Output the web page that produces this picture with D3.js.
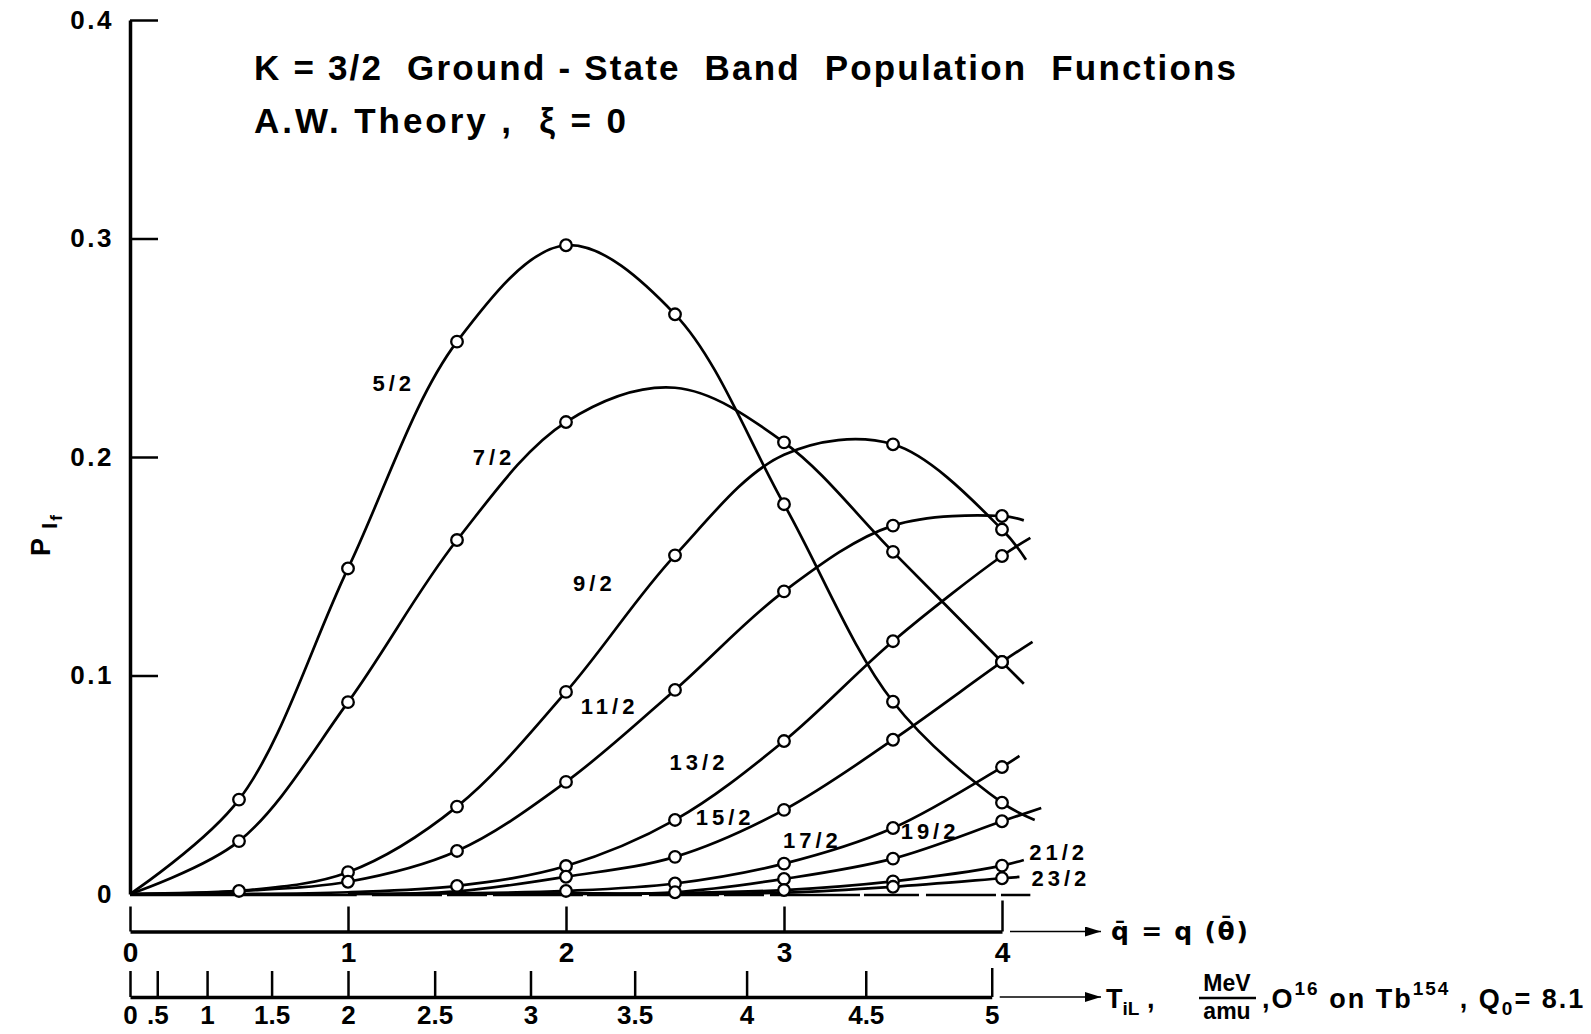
<!DOCTYPE html>
<html>
<head>
<meta charset="utf-8">
<script src="https://cdn.jsdelivr.net/npm/d3@7"></script>
<style>
body { margin: 0; background: #fff; }
text { font-family: "Liberation Sans", Arial, sans-serif; font-weight: bold; fill: #000; }
</style>
</head>
<body>
<svg id="chart" width="1591" height="1034"></svg>
<script>

// reduced collision parameter grid, where the populations were computed
var qGrid = [0, 0.5, 1, 1.5, 2, 2.5, 3, 3.5, 4];

var spins = ["5/2", "7/2", "9/2", "11/2", "13/2", "15/2", "17/2", "19/2", "21/2", "23/2"];

var p52  = [0, 0.0432, 0.149, 0.2528, 0.2969, 0.2653, 0.1784, 0.088, 0.0418];
var p72  = [0, 0.0242, 0.0878, 0.162, 0.216, 0.2317, 0.2067, 0.1566, 0.1062];
var p92  = [0, 0.0014, 0.0100, 0.040, 0.0925, 0.155, 0.201, 0.2058, 0.1668];
var p112 = [0, 0.0014, 0.0056, 0.0197, 0.0513, 0.0934, 0.1385, 0.1686, 0.173];
var p132 = [0, 0, 0.0008, 0.0037, 0.0128, 0.0339, 0.0700, 0.1157, 0.1547];
var p152 = [null, null, 0, 0.0012, 0.0079, 0.0170, 0.0385, 0.0706, 0.1062];
var p172 = [null, null, 0, 0.0003, 0.0014, 0.0048, 0.0139, 0.0302, 0.0581];
var p192 = [null, null, null, 0, 0.0003, 0.0008, 0.0069, 0.0162, 0.0333];
var p212 = [null, null, null, null, 0, 0.0004, 0.0018, 0.0058, 0.0130];
var p232 = [null, null, null, null, null, 0, 0.0006, 0.0033, 0.0072];

var series = [p52, p72, p92, p112, p132, p152, p172, p192, p212, p232];

// where each drawn curve stops, a little past q = 4
var qEnd = [4.15, 4.10, 4.11, 4.10, 4.13, 4.14, 4.08, 4.18, 4.10, 4.08];
var pEnd = [0.0339, 0.0962, 0.153, 0.171, 0.163, 0.1154, 0.0632, 0.0394, 0.0156, 0.0078];

// q values that carry an open circle
var marks = [
  [0.5, 1, 1.5, 2, 2.5, 3, 3.5, 4],
  [0.5, 1, 1.5, 2, 3, 3.5, 4],
  [0.5, 1, 1.5, 2, 2.5, 3.5, 4],
  [1, 1.5, 2, 2.5, 3, 3.5, 4],
  [1.5, 2, 2.5, 3, 3.5, 4],
  [2, 2.5, 3, 3.5, 4],
  [2, 2.5, 3, 3.5, 4],
  [2.5, 3, 3.5, 4],
  [3, 3.5, 4],
  [3.5, 4]
];

var yTicks = [0, 0.1, 0.2, 0.3, 0.4];
var yTickLabels = ["0", "0.1", "0.2", "0.3", "0.4"];
var qTicks = [0, 1, 2, 3, 4];
var tTicks = [0, 0.5, 1, 1.5, 2, 2.5, 3, 3.5, 4, 4.5, 5];
var tTickLabels = ["0", ".5", "1", "1.5", "2", "2.5", "3", "3.5", "4", "4.5", "5"];

var svg = d3.select("#chart");

var x = d3.scaleLinear().domain([0, 4]).range([130, 1002]);
var y = d3.scaleLinear().domain([0, 0.4]).range([894, 20]);
// q = (T/2)^1.5 for O16 on Tb154
var t = d3.scalePow().exponent(1.5).domain([0, 5]).range([x(0), x(Math.pow(2.5, 1.5))]);

var qAxisY = 931.5, tAxisY = 997;
var font = "\"Liberation Sans\", Arial, sans-serif";

// ---- y axis
var yAxis = svg.append("g")
  .attr("transform", "translate(" + x(0) + ",0)")
  .call(d3.axisLeft(y).tickValues(yTicks)
    .tickFormat(function(d, i) { return yTickLabels[i]; })
    .tickSizeInner(-28).tickSizeOuter(0).tickPadding(16));
yAxis.select(".domain").attr("stroke-width", 3.5);
yAxis.selectAll(".tick line").attr("stroke-width", 2.5)
  .filter(function(d) { return d === 0; }).remove();
yAxis.selectAll(".tick text").style("font-size", "26px").style("letter-spacing", "2.5px")
  .style("font-family", font).style("font-weight", "bold");

// P_If label
var yl = svg.append("text").attr("transform", "translate(50,556) rotate(-90)")
  .style("font-size", "27px");
yl.append("tspan").text("P");
yl.append("tspan").attr("dy", 7).attr("dx", 9).style("font-size", "22px").text("I");
yl.append("tspan").attr("dy", 5).attr("dx", 2).style("font-size", "17px").text("f");

// ---- q axis
var qAxis = svg.append("g")
  .attr("transform", "translate(0," + qAxisY + ")")
  .call(d3.axisBottom(x).tickValues(qTicks).tickFormat(d3.format("d"))
    .tickSizeInner(-25).tickSizeOuter(0).tickPadding(11));
qAxis.select(".domain").attr("stroke-width", 3.5);
qAxis.selectAll(".tick line").attr("stroke-width", 2.5)
  .filter(function(d) { return d === 4; }).attr("y2", -31);
qAxis.selectAll(".tick text").style("font-size", "28px")
  .style("font-family", font).style("font-weight", "bold");

// ---- T axis
var tAxis = svg.append("g")
  .attr("transform", "translate(0," + tAxisY + ")")
  .call(d3.axisBottom(t).tickValues(tTicks)
    .tickFormat(function(d, i) { return tTickLabels[i]; })
    .tickSizeInner(-26).tickSizeOuter(0).tickPadding(9));
tAxis.select(".domain").attr("stroke-width", 3.5);
tAxis.selectAll(".tick line").attr("stroke-width", 2.5)
  .filter(function(d) { return d === 5; }).attr("y2", -29);
tAxis.selectAll(".tick text").style("font-size", "26px")
  .style("font-family", font).style("font-weight", "bold");

// arrows
svg.append("defs").append("marker")
  .attr("id", "arrow").attr("viewBox", "0 0 16 10")
  .attr("refX", 16).attr("refY", 5)
  .attr("markerWidth", 16).attr("markerHeight", 10)
  .attr("markerUnits", "userSpaceOnUse").attr("orient", "auto")
  .append("path").attr("d", "M0,0L16,5L0,10z").attr("fill", "#000");

svg.append("line").attr("x1", x(4) + 8).attr("x2", 1101)
  .attr("y1", qAxisY).attr("y2", qAxisY)
  .attr("stroke", "#000").attr("stroke-width", 1.6).attr("marker-end", "url(#arrow)");
svg.append("line").attr("x1", t(5) + 8).attr("x2", 1101)
  .attr("y1", tAxisY).attr("y2", tAxisY)
  .attr("stroke", "#000").attr("stroke-width", 1.6).attr("marker-end", "url(#arrow)");

// q axis title
svg.append("text").attr("x", 1111).attr("y", 940)
  .attr("textLength", 137).attr("lengthAdjust", "spacing")
  .style("font-family", "\"DejaVu Sans\", sans-serif").style("font-size", "25px")
  .style("white-space", "pre").text("q\u0304 = q (\u03B8\u0304)");

// T axis title
var tt = svg.append("text").attr("x", 1106).attr("y", 1008).style("font-size", "27px");
tt.append("tspan").text("T");
tt.append("tspan").attr("dy", 7).style("font-size", "19px").text("iL");
tt.append("tspan").attr("dy", -7).text(" ,");
svg.append("text").attr("x", 1227).attr("y", 991).attr("text-anchor", "middle")
  .style("font-size", "23px").text("MeV");
svg.append("line").attr("x1", 1199).attr("x2", 1256).attr("y1", 998).attr("y2", 998)
  .attr("stroke", "#000").attr("stroke-width", 2.5);
svg.append("text").attr("x", 1227).attr("y", 1019).attr("text-anchor", "middle")
  .style("font-size", "23px").text("amu");
var tr = svg.append("text").attr("x", 1262).attr("y", 1008).style("font-size", "27px")
  .style("white-space", "pre").style("letter-spacing", "2px");
tr.append("tspan").text(",O");
tr.append("tspan").attr("dy", -13).style("font-size", "19px").text("16");
tr.append("tspan").attr("dy", 13).text(" on Tb");
tr.append("tspan").attr("dy", -13).style("font-size", "19px").text("154");
tr.append("tspan").attr("dy", 13).text(" , Q");
tr.append("tspan").attr("dy", 7).style("font-size", "19px").text("0");
tr.append("tspan").attr("dy", -7).text("= 8.1");

// ---- title
svg.append("text").attr("x", 254).attr("y", 80)
  .attr("textLength", 982).attr("lengthAdjust", "spacing")
  .style("font-size", "35px").style("white-space", "pre")
  .text("K = 3/2  Ground - State  Band  Population  Functions");
svg.append("text").attr("x", 254).attr("y", 133)
  .attr("textLength", 372).attr("lengthAdjust", "spacing")
  .style("font-size", "35px").style("white-space", "pre")
  .text("A.W. Theory ,  \u03BE = 0");

// ---- zero line under the higher-spin curves
var zeroSegs = [[0, 1.04], [1.11, 4.13]];
svg.selectAll(".zero").data(zeroSegs).enter().append("line")
  .attr("class", "zero")
  .attr("x1", function(d) { return x(d[0]); })
  .attr("x2", function(d) { return x(d[1]); })
  .attr("y1", y(0) + 1).attr("y2", y(0) + 1)
  .attr("stroke", "#000").attr("stroke-width", 2.4)
  .attr("stroke-dasharray", function(d, i) { return i ? "70,5,40,6,90,4,55,7" : null; });

// ---- curves
var line = d3.line()
  .x(function(d) { return x(d[0]); })
  .y(function(d) { return y(d[1]); })
  .curve(d3.curveCatmullRom.alpha(0.5));

var curves = series.map(function(s, i) {
  var pts = [];
  qGrid.forEach(function(q, j) { if (s[j] !== null) pts.push([q, s[j]]); });
  pts.push([qEnd[i], pEnd[i]]);
  return pts;
});

svg.selectAll(".curve").data(curves).enter().append("path")
  .attr("class", "curve")
  .attr("d", line)
  .attr("fill", "none").attr("stroke", "#000").attr("stroke-width", 2.7);

series.forEach(function(s, i) {
  svg.selectAll(".pt" + i).data(marks[i]).enter().append("circle")
    .attr("class", "pt" + i)
    .attr("cx", function(q) { return x(q); })
    .attr("cy", function(q) { return y(s[qGrid.indexOf(q)]); })
    .attr("r", 5.8)
    .attr("fill", "#fff").attr("stroke", "#000").attr("stroke-width", 2.3);
});

// ---- spin labels (anchored in data units)
var labelQ = [1.21, 1.67, 2.13, 2.20, 2.61, 2.73, 3.13, 3.67, 4.26, 4.27];
var labelP = [0.2335, 0.200, 0.142, 0.0856, 0.0604, 0.0348, 0.0247, 0.0284, 0.0192, 0.0073];

svg.selectAll(".spin").data(spins).enter().append("text")
  .attr("class", "spin")
  .attr("x", function(d, i) { return x(labelQ[i]); })
  .attr("y", function(d, i) { return y(labelP[i]); })
  .attr("text-anchor", "middle").attr("dominant-baseline", "central")
  .style("font-size", "22px").style("letter-spacing", "4px")
  .text(function(d) { return d; });

</script>
</body>
</html>
